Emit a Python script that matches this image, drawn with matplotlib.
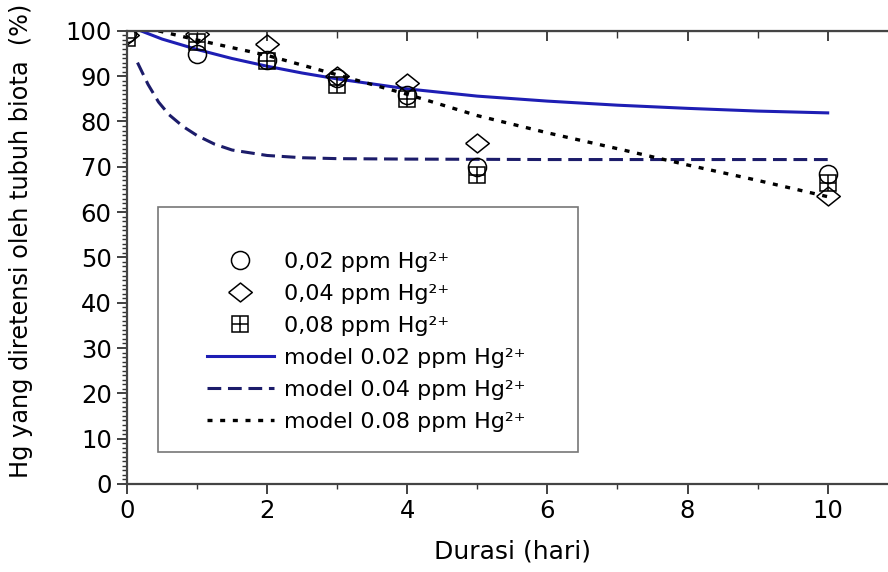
"""
Hg retention in biota over time: measured points and model curves
"""

import matplotlib
matplotlib.use("Agg")
import matplotlib.pyplot as plt
from matplotlib.ticker import MultipleLocator
from matplotlib.patches import Rectangle

plt.rcParams['font.family'] = ['DejaVu Sans']

# measured data (days, % retained)
days = [0, 1, 2, 3, 4, 5, 10]
hg_002 = [99.5, 95.0, 93.5, 89.5, 85.8, 70.0, 68.5]
hg_004 = [99.0, 99.4, 97.1, 90.0, 88.4, 75.2, 63.5]
hg_008 = [98.5, 97.6, 93.3, 88.0, 85.0, 68.2, 66.4]

# model curves
model_002_x = [0.2, 0.5, 1, 1.5, 2, 2.5, 3, 4, 5, 6, 7, 8, 9, 10]
model_002_y = [100, 98.2, 95.9, 93.9, 92.2, 90.7, 89.4, 87.2, 85.6, 84.5, 83.6, 82.9, 82.3, 81.9]
model_004_x = [0.15, 0.3, 0.45, 0.6, 0.8, 1.0, 1.25, 1.5, 2, 2.5, 3, 4, 6, 8, 10]
model_004_y = [93.0, 88.2, 84.3, 81.5, 78.9, 76.9, 75.0, 73.7, 72.5, 72.0, 71.8, 71.7, 71.6, 71.6, 71.6]
model_008_x = [0.45, 1, 2, 3, 4, 5, 6, 7, 8, 9, 10]
model_008_y = [100, 98.0, 94.6, 90.3, 86.0, 81.3, 77.5, 74.0, 70.4, 67.0, 63.4]

labels = ['0,02 ppm Hg²⁺', '0,04 ppm Hg²⁺', '0,08 ppm Hg²⁺',
          'model 0.02 ppm Hg²⁺', 'model 0.04 ppm Hg²⁺', 'model 0.08 ppm Hg²⁺']

fig = plt.figure(figsize=(8.88, 5.72), dpi=100)
ax = fig.add_axes([0.143, 0.154, 0.868, 0.792])

wide_diamond = [(-1, 0), (0, 0.8), (1, 0), (0, -0.8), (-1, 0)]
mk = dict(linestyle='none', markerfacecolor='none', markeredgecolor='black', markeredgewidth=1.1)

l1, = ax.plot(model_002_x, model_002_y, color='#1e1eb4', lw=2.2)
l2, = ax.plot(model_004_x, model_004_y, color='#1c1c6a', lw=2.2, linestyle=(0, (4.5, 2.2)))
l3, = ax.plot(model_008_x, model_008_y, color='black', lw=2.4, linestyle=(0, (1.5, 2.3)))

p1, = ax.plot(days, hg_002, marker='o', markersize=13, **mk)
p2, = ax.plot(days, hg_004, marker=wide_diamond, markersize=17, **mk)
p3a, = ax.plot(days, hg_008, marker='s', markersize=11, **mk)
p3b, = ax.plot(days, hg_008, marker='+', markersize=11, **mk)

ax.set_xlim(0, 11)
ax.set_ylim(0, 100)
ax.xaxis.set_major_locator(MultipleLocator(2))
ax.xaxis.set_minor_locator(MultipleLocator(1))
ax.yaxis.set_major_locator(MultipleLocator(10))
ax.yaxis.set_minor_locator(MultipleLocator(1))

ax.tick_params(axis='both', which='major', labelsize=17.5, length=7, width=1.3, color='#333333', pad=4)
ax.tick_params(axis='both', which='minor', length=3.5, width=1.0, color='#333333')
ax.tick_params(axis='x', which='both', direction='out', top=False)
ax.tick_params(axis='y', which='both', direction='out', right=False)

# inner ticks on top and right
ax2 = ax.secondary_xaxis('top')
ax2.xaxis.set_major_locator(MultipleLocator(2))
ax2.xaxis.set_minor_locator(MultipleLocator(1))
ax2.tick_params(which='major', direction='in', length=7, width=1.3, color='#333333', labeltop=False)
ax2.tick_params(which='minor', direction='in', length=5, width=1.0, color='#333333')
ax3 = ax.secondary_yaxis('right')
ax3.yaxis.set_major_locator(MultipleLocator(10))
ax3.yaxis.set_minor_locator(MultipleLocator(5))
ax3.tick_params(which='major', direction='in', length=7, width=1.3, color='#333333', labelright=False)
ax3.tick_params(which='minor', direction='in', length=4, width=1.0, color='#333333')

for s in ax.spines.values():
    s.set_color('#444444')
    s.set_linewidth(1.6)

ax.set_xlabel('Durasi (hari)', fontsize=18, labelpad=12)
ax.set_ylabel('Hg yang diretensi oleh tubuh biota  (%)', fontsize=17.3)
ax.yaxis.set_label_coords(-0.122, 0.536)

ax.add_patch(Rectangle((0.040, 0.071), 0.545, 0.540, transform=ax.transAxes,
                       facecolor='white', edgecolor='#777777', lw=1.2, zorder=4))
leg = ax.legend([p1, p2, (p3a, p3b), l1, l2, l3], labels,
                loc='upper left', bbox_to_anchor=(0.104, 0.512), frameon=False,
                fontsize=16, handlelength=3.0, handletextpad=0.45,
                labelspacing=0.54, borderpad=0, borderaxespad=0)
leg.set_zorder(5)

fig.savefig('out.png', dpi=100)
